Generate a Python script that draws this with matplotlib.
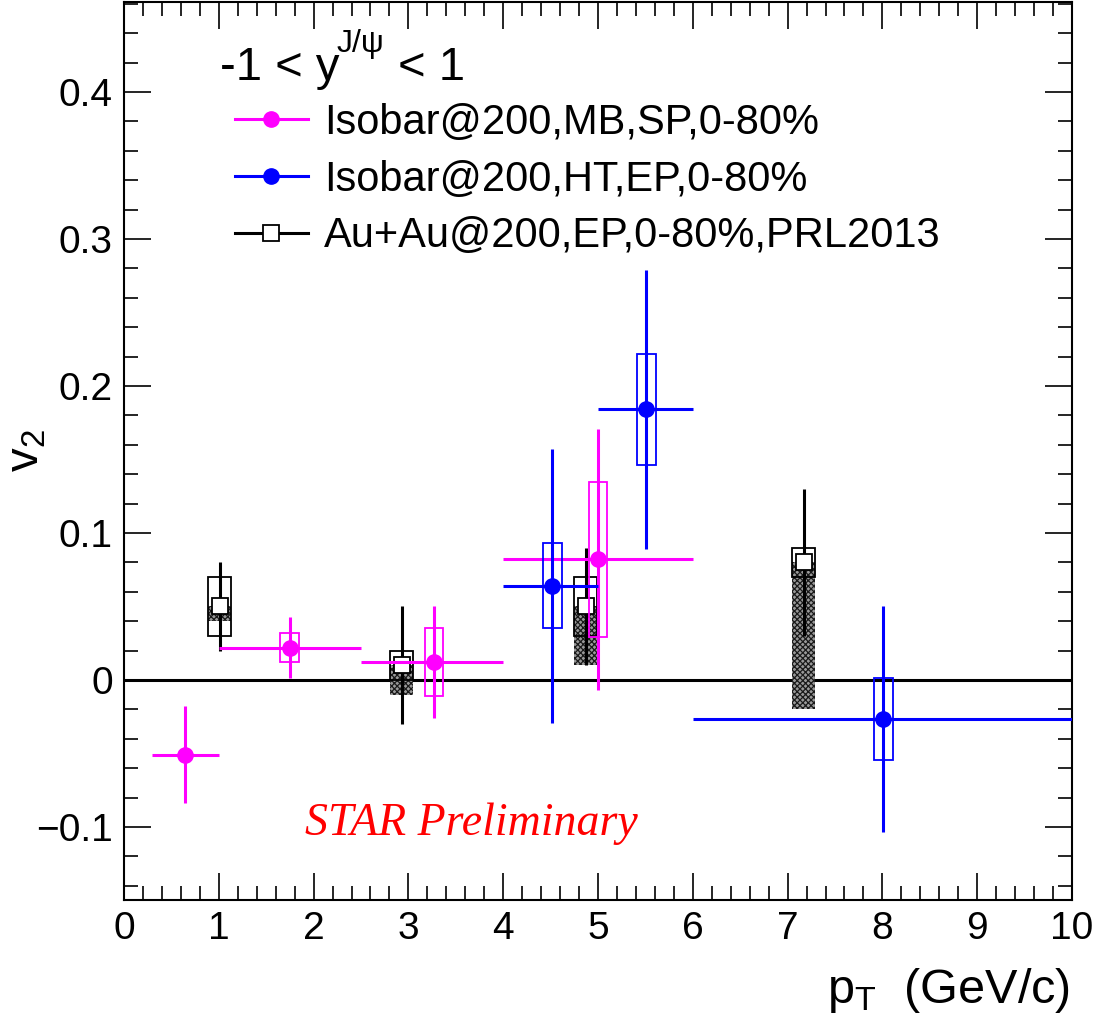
import matplotlib
matplotlib.use("Agg")
import matplotlib.pyplot as plt
from matplotlib.patches import Rectangle
from matplotlib.lines import Line2D

plt.rcParams['font.family'] = ['Liberation Sans', 'DejaVu Sans']
plt.rcParams['mathtext.fontset'] = 'custom'
plt.rcParams['mathtext.rm'] = 'Liberation Sans'
plt.rcParams['mathtext.it'] = 'Liberation Sans:italic'
plt.rcParams['hatch.linewidth'] = 0.9

# Isobar@200, MB, SP, 0-80%
mb_x = [0.64, 1.75, 3.27, 5.0]
mb_xlo = [0.3, 1.0, 2.5, 4.0]
mb_xhi = [1.0, 2.5, 4.0, 6.0]
mb_v2 = [-0.051, 0.022, 0.012, 0.082]
mb_stat = [0.033, 0.021, 0.038, 0.089]
mb_sys = [None, 0.010, 0.023, 0.053]

# Isobar@200, HT, EP, 0-80%
ht_x = [4.52, 5.51, 8.01]
ht_xlo = [4.0, 5.0, 6.0]
ht_xhi = [5.0, 6.0, 10.0]
ht_v2 = [0.064, 0.184, -0.0265]
ht_stat = [0.093, 0.095, 0.077]
ht_sys = [0.029, 0.038, 0.028]

# Au+Au@200, EP, 0-80%, PRL2013
au_x = [1.01, 2.93, 4.87, 7.17]
au_v2 = [0.05, 0.01, 0.05, 0.08]
au_stat = [0.03, 0.04, 0.04, 0.05]
au_sys = [0.02, 0.01, 0.02, 0.01]
au_nonflow = [0.01, 0.02, 0.04, 0.10]

xticks = [0, 1, 2, 3, 4, 5, 6, 7, 8, 9, 10]
yticks = [-0.1, 0, 0.1, 0.2, 0.3, 0.4]
ylabels = ['\u22120.1', '0', '0.1', '0.2', '0.3', '0.4']

fig = plt.figure(figsize=(10.95, 10.25), dpi=100)
ax = fig.add_axes([124/1095, 125/1025, 948/1095, 898/1025])

ax.axhline(0, color='black', lw=2.2, zorder=1)

# PRL2013 points: hatched non-flow band, open sys box, stat bars, open square
for x, y, st, sy, nf in zip(au_x, au_v2, au_stat, au_sys, au_nonflow):
    ax.add_patch(Rectangle((x - 0.12, y - nf), 0.24, nf, facecolor='0.6',
                           edgecolor='0.1', hatch='xxxxxx', lw=0, zorder=2))
    ax.add_patch(Rectangle((x - 0.12, y - sy), 0.24, 2 * sy, facecolor='none',
                           edgecolor='black', lw=1.3, zorder=3))
ax.errorbar(au_x, au_v2, yerr=au_stat, fmt='s', color='black', mfc='white',
            mec='black', ms=11, mew=1.3, elinewidth=2.2, capsize=0, zorder=4)

# Isobar MB
for x, y, sy in zip(mb_x, mb_v2, mb_sys):
    if sy is not None:
        ax.add_patch(Rectangle((x - 0.1, y - sy), 0.2, 2 * sy, facecolor='none',
                               edgecolor='magenta', lw=1.3, zorder=5))
mb_xerr = [[x - lo for x, lo in zip(mb_x, mb_xlo)], [hi - x for x, hi in zip(mb_x, mb_xhi)]]
ax.errorbar(mb_x, mb_v2, xerr=mb_xerr, yerr=mb_stat, fmt='o', color='magenta',
            ms=11, elinewidth=2.2, capsize=0, zorder=6)

# Isobar HT
for x, y, sy in zip(ht_x, ht_v2, ht_sys):
    ax.add_patch(Rectangle((x - 0.1, y - sy), 0.2, 2 * sy, facecolor='none',
                           edgecolor='blue', lw=1.3, zorder=7))
ht_xerr = [[x - lo for x, lo in zip(ht_x, ht_xlo)], [hi - x for x, hi in zip(ht_x, ht_xhi)]]
ax.errorbar(ht_x, ht_v2, xerr=ht_xerr, yerr=ht_stat, fmt='o', color='blue',
            ms=11, elinewidth=2.2, capsize=0, zorder=8)

ax.set_xlim(0, 10)
ax.set_ylim(-0.1497, 0.4612)
ax.set_xticks(xticks)
ax.set_xticks([i * 0.2 for i in range(51)], minor=True)
ax.set_yticks(yticks)
ax.set_yticklabels(ylabels)
ax.set_yticks([-0.14 + i * 0.02 for i in range(31)], minor=True)
ax.tick_params(which='both', direction='in', top=True, right=True, labelsize=28, width=1.2)
ax.tick_params(which='major', length=19.5, pad=8)
ax.tick_params(which='minor', length=10)
for s in ax.spines.values():
    s.set_linewidth(1.5)

fig.text(1070/1095, 1 - 1003/1025, r'$\mathrm{p_{T}}$  (GeV/c)', ha='right', va='baseline', fontsize=35)
fig.text(27/1095, 1 - 451/1025, r'$\mathrm{v_{2}}$', ha='center', va='center', rotation=90, fontsize=34)

# rapidity range, written in three pieces like the ROOT latex
ax.text((220 - 124)/948, (900 - 80)/898, '-1 < y', transform=ax.transAxes,
        fontsize=34, ha='left', va='baseline')
ax.text((337 - 124)/948, (900 - 52)/898, 'J/\u03c8', transform=ax.transAxes,
        fontsize=23, ha='left', va='baseline')
ax.text((398 - 124)/948, (900 - 80)/898, '< 1', transform=ax.transAxes,
        fontsize=34, ha='left', va='baseline')

handles = [Line2D([], [], color='magenta', marker='o', ms=11, lw=2.2),
           Line2D([], [], color='blue', marker='o', ms=11, lw=2.2),
           Line2D([], [], color='black', marker='s', ms=11, mfc='white', mew=1.3, lw=2.2)]
labels = ['Isobar@200,MB,SP,0-80%', 'Isobar@200,HT,EP,0-80%', 'Au+Au@200,EP,0-80%,PRL2013']
ax.legend(handles, labels, loc='upper left', bbox_to_anchor=(0.117, 0.8876), frameon=False,
          fontsize=30, handlelength=1.75, handletextpad=0.38, labelspacing=0.4,
          borderpad=0, borderaxespad=0)

ax.text(0.191, 0.0724, 'STAR Preliminary', transform=ax.transAxes, color='red',
        fontsize=33, fontstyle='italic', family='Liberation Serif', ha='left', va='baseline')

fig.savefig('out.png', dpi=100)
